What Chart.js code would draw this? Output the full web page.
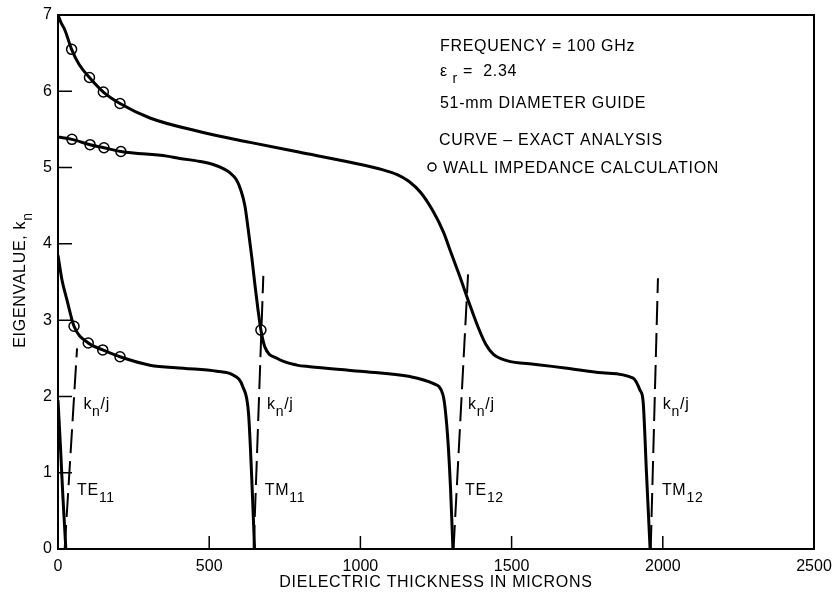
<!DOCTYPE html>
<html>
<head>
<meta charset="utf-8">
<script src="https://cdn.jsdelivr.net/npm/chart.js@4.4.1/dist/chart.umd.min.js"></script>
<style>
  html, body { margin: 0; padding: 0; background: #fff; }
  #c { display: block; }
</style>
</head>
<body>
<canvas id="c" width="832" height="593"></canvas>
<script>
// axis ticks
var xTicks = [0, 500, 1000, 1500, 2000, 2500];
var yTicks = [0, 1, 2, 3, 4, 5, 6, 7];

// exact analysis curves (dielectric thickness in microns, eigenvalue)
var branch1X = [0, 10, 23, 45, 70, 104, 150, 205, 304, 470, 635, 800, 966, 1075, 1120, 1160, 1200, 1240, 1274, 1300, 1330, 1360, 1390, 1415, 1440, 1484, 1580, 1683, 1800, 1902, 1925, 1935, 1946, 1958];
var branch1Y = [7.0, 6.9, 6.8, 6.55, 6.35, 6.18, 5.99, 5.84, 5.65, 5.47, 5.33, 5.20, 5.07, 4.97, 4.91, 4.82, 4.67, 4.43, 4.16, 3.88, 3.56, 3.22, 2.90, 2.68, 2.55, 2.47, 2.42, 2.37, 2.31, 2.24, 2.08, 1.93, 1.0, 0];

var branch2X = [0, 46, 106, 152, 208, 360, 403, 470, 513, 550, 569, 590, 605, 618, 628, 641, 651, 661, 671, 684, 724, 790, 833, 999, 1164, 1240, 1273, 1288, 1298, 1306];
var branch2Y = [5.40, 5.37, 5.30, 5.26, 5.21, 5.15, 5.12, 5.08, 5.04, 4.98, 4.93, 4.84, 4.70, 4.50, 4.22, 3.82, 3.47, 3.15, 2.87, 2.65, 2.50, 2.41, 2.39, 2.33, 2.26, 2.17, 2.02, 1.5, 0.8, 0];

var branch3X = [0, 13, 30, 53, 100, 148, 205, 304, 415, 525, 579, 612, 630, 641, 650];
var branch3Y = [3.85, 3.53, 3.26, 2.92, 2.70, 2.61, 2.52, 2.41, 2.37, 2.33, 2.28, 2.12, 1.78, 0.9, 0];

var branch4X = [0, 8, 16, 26];
var branch4Y = [1.95, 1.35, 0.7, 0];

// wall impedance calculation points
var wallX = [45, 104, 150, 205, 46, 106, 152, 208, 53, 100, 148, 205, 671];
var wallY = [6.55, 6.18, 5.99, 5.84, 5.37, 5.30, 5.26, 5.21, 2.92, 2.70, 2.61, 2.52, 2.87];

// kn/j (dashed) near each cutoff
var modeNames = ['TE', 'TM', 'TE', 'TM'];
var modeSubs = ['11', '11', '12', '12'];
var kjX = [[22, 63], [647, 679], [1308, 1356], [1960, 1984]];
var kjY = [[0, 2.63], [0, 3.58], [0, 3.60], [0, 3.55]];

function toPoints(xs, ys){
  return xs.map(function(x, i){ return {x: x, y: ys[i]}; });
}

var FONT = '"Liberation Sans", Arial, sans-serif';

var datasets = [];
[[branch1X, branch1Y], [branch2X, branch2Y], [branch3X, branch3Y], [branch4X, branch4Y]].forEach(function(b){
  datasets.push({
    data: toPoints(b[0], b[1]),
    showLine: true,
    borderColor: '#000',
    borderWidth: 3,
    pointRadius: 0,
    cubicInterpolationMode: 'monotone'
  });
});
kjX.forEach(function(xs, i){
  datasets.push({
    data: toPoints(xs, kjY[i]),
    showLine: true,
    borderColor: '#000',
    borderWidth: 2,
    borderDash: [24, 8],
    pointRadius: 0
  });
});
datasets.push({
  data: toPoints(wallX, wallY),
  showLine: false,
  pointRadius: 5,
  pointBackgroundColor: '#fff',
  pointBorderColor: '#000',
  pointBorderWidth: 1.5
});

// text with lowered subscripts
function drawRich(ctx, parts, x, y, size){
  parts.forEach(function(p){
    var sub = p[1];
    ctx.font = (sub ? Math.round(size * 0.9) : size) + 'px ' + FONT;
    ctx.fillText(p[0], x, sub ? y + size * 0.42 : y);
    x += ctx.measureText(p[0]).width;
  });
}

var frameAndText = {
  id: 'frameAndText',
  afterDatasetsDraw: function(chart){
    var ctx = chart.ctx;
    var a = chart.chartArea;
    var xs = chart.scales.x, ys = chart.scales.y;
    ctx.save();
    ctx.strokeStyle = '#000';
    ctx.lineWidth = 2;
    ctx.strokeRect(a.left, a.top, a.right - a.left, a.bottom - a.top);

    // inward ticks
    ctx.lineWidth = 1.5;
    ctx.beginPath();
    ys.ticks.forEach(function(t){
      if(t.value <= ys.min || t.value >= ys.max) return;
      var py = ys.getPixelForValue(t.value);
      ctx.moveTo(a.left, py); ctx.lineTo(a.left + 14, py);
    });
    xs.ticks.forEach(function(t){
      if(t.value <= xs.min || t.value >= xs.max) return;
      var px = xs.getPixelForValue(t.value);
      ctx.moveTo(px, a.bottom); ctx.lineTo(px, a.bottom - 13);
    });
    ctx.stroke();

    ctx.fillStyle = '#000';
    ctx.textBaseline = 'alphabetic';
    ctx.textAlign = 'left';
    ctx.letterSpacing = '0.7px';

    // mode labels
    var modeLabelX = [63, 684, 1346, 1997];
    var kjLabelX = [84, 691, 1356, 2000];
    modeNames.forEach(function(m, i){
      drawRich(ctx, [[m], [modeSubs[i], true]], xs.getPixelForValue(modeLabelX[i]), ys.getPixelForValue(0.71), 16);
      drawRich(ctx, [['k'], ['n', true], ['/j']], xs.getPixelForValue(kjLabelX[i]), ys.getPixelForValue(1.83), 16);
    });

    // notes
    drawRich(ctx, [['FREQUENCY = 100 GHz']], 440, 51, 16);
    drawRich(ctx, [['\u03b5'], [' r', true], [' =  2.34']], 440, 76, 16);
    drawRich(ctx, [['51-mm DIAMETER GUIDE']], 440, 108, 16);
    drawRich(ctx, [['CURVE \u2013 EXACT ANALYSIS']], 439, 145, 16);
    drawRich(ctx, [['WALL IMPEDANCE CALCULATION']], 443, 173, 16);
    ctx.lineWidth = 1.5;
    ctx.beginPath();
    ctx.arc(432, 167, 4, 0, Math.PI * 2);
    ctx.stroke();

    // axis titles
    ctx.letterSpacing = '0.7px';
    ctx.font = '16px ' + FONT;
    ctx.textAlign = 'center';
    ctx.fillText('DIELECTRIC THICKNESS IN MICRONS', (a.left + a.right) / 2, 587);

    ctx.translate(25, 280);
    ctx.rotate(-Math.PI / 2);
    ctx.textAlign = 'left';
    ctx.font = '16px ' + FONT;
    var w1 = ctx.measureText('EIGENVALUE, k').width;
    ctx.font = '14px ' + FONT;
    var w2 = ctx.measureText('n').width;
    drawRich(ctx, [['EIGENVALUE, k'], ['n', true]], -(w1 + w2) / 2, 0, 16);
    ctx.restore();
  }
};

new Chart(document.getElementById('c'), {
  type: 'scatter',
  data: { datasets: datasets },
  options: {
    responsive: false,
    devicePixelRatio: 1,
    animation: false,
    layout: { padding: { top: 15, right: 18, left: 0, bottom: 0 } },
    plugins: { legend: { display: false }, tooltip: { enabled: false } },
    scales: {
      x: {
        type: 'linear', min: 0, max: 2500,
        afterBuildTicks: function(s){ s.ticks = xTicks.map(function(v){ return {value: v}; }); },
        afterFit: function(s){ s.height = 44; s.paddingLeft = 0; s.paddingRight = 0; },
        grid: { display: false, drawTicks: false },
        border: { display: false },
        ticks: { color: '#000', padding: 8, maxRotation: 0, font: { family: FONT, size: 16 },
          callback: function(v){ return String(v); } }
      },
      y: {
        type: 'linear', min: 0, max: 7,
        afterBuildTicks: function(s){ s.ticks = yTicks.map(function(v){ return {value: v}; }); },
        afterFit: function(s){ s.width = 58; s.paddingTop = 0; s.paddingBottom = 0; },
        grid: { display: false, drawTicks: false },
        border: { display: false },
        ticks: { color: '#000', padding: 6, font: { family: FONT, size: 16 },
          callback: function(v){ return String(v); } }
      }
    }
  },
  plugins: [frameAndText]
});
</script>
</body>
</html>
